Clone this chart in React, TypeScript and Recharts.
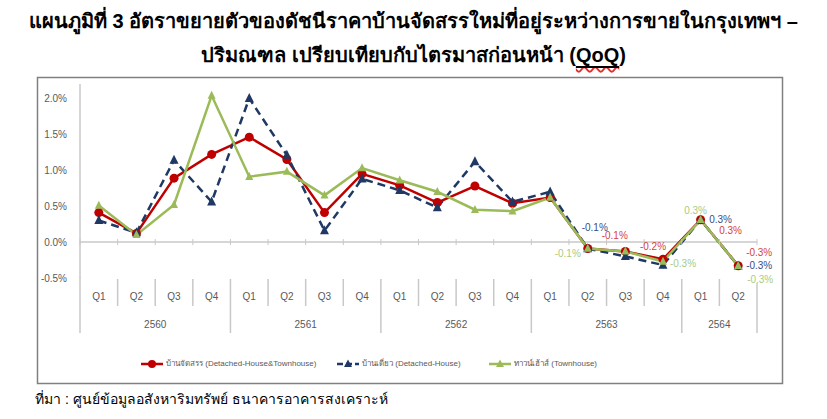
import { LineChart, Line, XAxis, YAxis, ReferenceLine, LabelList } from "recharts";

const quarters = ["Q1", "Q2", "Q3", "Q4", "Q1", "Q2", "Q3", "Q4", "Q1", "Q2", "Q3", "Q4", "Q1", "Q2", "Q3", "Q4", "Q1", "Q2"];
const years = ["2560", "2560", "2560", "2560", "2561", "2561", "2561", "2561", "2562", "2562", "2562", "2562", "2563", "2563", "2563", "2563", "2564", "2564"];

// % QoQ
const allHousing = [0.41, 0.12, 0.89, 1.22, 1.46, 1.15, 0.41, 0.95, 0.79, 0.55, 0.78, 0.54, 0.62, -0.09, -0.13, -0.24, 0.31, -0.33];
const detached = [0.3, 0.13, 1.14, 0.56, 2.0, 1.21, 0.16, 0.88, 0.72, 0.48, 1.12, 0.56, 0.7, -0.09, -0.2, -0.32, 0.31, -0.33];
const townhouse = [0.51, 0.1, 0.52, 2.04, 0.91, 0.98, 0.65, 1.03, 0.86, 0.7, 0.45, 0.43, 0.62, -0.09, -0.13, -0.27, 0.31, -0.33];

const yTicks = [-0.5, 0, 0.5, 1, 1.5, 2];

const data = quarters.map((q, i) => ({
  key: `${years[i]}-${q}`,
  allHousing: allHousing[i],
  detached: detached[i],
  townhouse: townhouse[i],
}));

const RED = "#C00000";
const BLUE = "#1F3864";
const GREEN = "#9BBB59";
const AXIS = "#C8C8C8";
const TEXT = "#595959";
const FONT = "'Liberation Sans', Arial, sans-serif";

// plot geometry
const CHART_W = 827;
const CHART_H = 419;
const PLOT_LEFT = 80;
const PLOT_RIGHT = 757;
const PLOT_TOP = 84;
const PLOT_BOTTOM = 278;
const Y_MIN = -0.5;
const Y_MAX = 2.2;
const BAND = (PLOT_RIGHT - PLOT_LEFT) / quarters.length;
const ZERO_UP = ((PLOT_BOTTOM - PLOT_TOP) * (0 - Y_MIN)) / (Y_MAX - Y_MIN);

// which points carry a data label, and where it sits relative to the point
const labelPos: Record<string, Record<number, { dx: number; dy: number }>> = {
  allHousing: { 13: { dx: 27, dy: -13 }, 15: { dx: -10, dy: -13 }, 16: { dx: 30, dy: 11 }, 17: { dx: 21, dy: -13 } },
  detached: { 13: { dx: 7, dy: -21 }, 16: { dx: 20, dy: 0 }, 17: { dx: 21, dy: 0 } },
  townhouse: { 13: { dx: -20, dy: 5 }, 15: { dx: 20, dy: 2 }, 16: { dx: -5, dy: -9 }, 17: { dx: 22, dy: 14 } },
};

const makeLabel = (series: string, color: string) => (props: any) => {
  const { x, y, value, index } = props;
  const pos = labelPos[series][index];
  if (!pos) return null;
  return (
    <text x={x + pos.dx} y={y + pos.dy} fill={color} fontSize={10} fontFamily={FONT} textAnchor="middle" dominantBaseline="central">
      {`${Number(value).toFixed(1)}%`}
    </text>
  );
};

const triangle = (color: string, size: number) => (props: any) => {
  const { cx, cy, index } = props;
  const h = size;
  const w = size;
  return (
    <polygon
      key={`tri-${index}`}
      points={`${cx},${cy - h * 0.6} ${cx - w / 2},${cy + h * 0.4} ${cx + w / 2},${cy + h * 0.4}`}
      fill={color}
    />
  );
};

function ValueTick(props: any) {
  const { y, payload } = props;
  return (
    <text x={PLOT_LEFT - 13} y={y} fill={TEXT} fontSize={10} fontFamily={FONT} textAnchor="end" dominantBaseline="central">
      {`${Number(payload.value).toFixed(1)}%`}
    </text>
  );
}

function CategoryTick(props: any) {
  const { x, y, payload } = props;
  const i = payload.index;
  const left = x - BAND / 2;
  const yearStart = i === 0 || years[i] !== years[i - 1];
  const isLast = i === quarters.length - 1;
  let yearLabel = null;
  if (yearStart) {
    let n = 0;
    while (years[i + n] === years[i]) n++;
    yearLabel = (
      <text x={left + (n * BAND) / 2} y={y + 46} fill={TEXT} fontSize={10} fontFamily={FONT} textAnchor="middle" dominantBaseline="central">
        {years[i]}
      </text>
    );
  }
  return (
    <g>
      <line x1={left} x2={left} y1={y - ZERO_UP - 3} y2={y - ZERO_UP + 3} stroke={AXIS} />
      {isLast && <line x1={left + BAND} x2={left + BAND} y1={y - ZERO_UP - 3} y2={y - ZERO_UP + 3} stroke={AXIS} />}
      <line x1={left} x2={left} y1={i === 0 ? y - 1 : y + 1} y2={y + (yearStart ? 55 : 28)} stroke={AXIS} strokeWidth={1.5} />
      {isLast && <line x1={left + BAND} x2={left + BAND} y1={y + 5} y2={y + 55} stroke={AXIS} strokeWidth={1.5} />}
      <text x={x} y={y + 18} fill={TEXT} fontSize={10} fontFamily={FONT} textAnchor="middle" dominantBaseline="central">
        {quarters[i]}
      </text>
      {yearLabel}
    </g>
  );
}

function LegendItem({ color, label, marker, dashed }: { color: string; label: string; marker: "circle" | "triangle"; dashed?: boolean }) {
  return (
    <div style={{ display: "flex", alignItems: "center" }}>
      <svg width={24} height={12}>
        <line x1={1} x2={23} y1={6} y2={6} stroke={color} strokeWidth={2.5} strokeDasharray={dashed ? "6 3" : undefined} />
        {marker === "circle" ? (
          <circle cx={12} cy={6} r={4} fill={color} />
        ) : (
          <polygon points="12,1.5 8,9 16,9" fill={color} />
        )}
      </svg>
      <span style={{ marginLeft: 2, fontSize: 8, color: TEXT, fontFamily: FONT, whiteSpace: "nowrap" }}>{label}</span>
    </div>
  );
}

export default function App() {
  return (
    <div style={{ position: "absolute", left: 0, top: 0, width: CHART_W, height: CHART_H, background: "#fff", fontFamily: FONT }}>
      <div style={{ position: "absolute", top: 4, left: 0, width: CHART_W, textAlign: "center", fontWeight: "bold", fontSize: 20, lineHeight: "34px", color: "#000" }}>
        <div>แผนภูมิที่ 3 อัตราขยายตัวของดัชนีราคาบ้านจัดสรรใหม่ที่อยู่ระหว่างการขายในกรุงเทพฯ –</div>
        <div>
          ปริมณฑล เปรียบเทียบกับไตรมาสก่อนหน้า (
          <span style={{ textDecoration: "underline wavy #E03030", textUnderlineOffset: 4 }}>
            <span style={{ textDecoration: "underline" }}>QoQ</span>
          </span>
          )
        </div>
      </div>

      {/* frame round the chart */}
      <svg width={CHART_W} height={CHART_H} style={{ position: "absolute", left: 0, top: 0 }}>
        <rect x={37.5} y={77.5} width={745} height={306} fill="none" stroke="#808080" strokeWidth={1.5} />
      </svg>

      <div style={{ position: "absolute", left: 0, top: 0 }}>
        <LineChart
          width={CHART_W}
          height={CHART_H}
          data={data}
          margin={{ top: PLOT_TOP, right: CHART_W - PLOT_RIGHT, bottom: CHART_H - PLOT_BOTTOM - 62, left: PLOT_LEFT - 40 }}
        >
          <XAxis
            dataKey="key"
            axisLine={false}
            tickLine={false}
            tickSize={0}
            tickMargin={0}
            interval={0}
            height={62}
            padding={{ left: BAND / 2, right: BAND / 2 }}
            tick={<CategoryTick />}
          />
          <YAxis
            domain={[Y_MIN, Y_MAX]}
            ticks={yTicks}
            width={40}
            tickLine={false}
            axisLine={{ stroke: AXIS, strokeWidth: 1.5 }}
            tick={<ValueTick />}
            allowDataOverflow
          />
          <ReferenceLine y={0} stroke={AXIS} strokeWidth={1.5} />
          <Line type="linear" dataKey="allHousing" stroke={RED} strokeWidth={2.5} dot={{ r: 4.5, fill: RED, stroke: RED, strokeWidth: 0 }} isAnimationActive={false}>
            <LabelList dataKey="allHousing" content={makeLabel("allHousing", "#D94040")} />
          </Line>
          <Line type="linear" dataKey="detached" stroke={BLUE} strokeWidth={2.5} strokeDasharray="8 5" dot={triangle(BLUE, 9)} isAnimationActive={false}>
            <LabelList dataKey="detached" content={makeLabel("detached", "#3A4D80")} />
          </Line>
          <Line type="linear" dataKey="townhouse" stroke={GREEN} strokeWidth={2.5} dot={triangle(GREEN, 8)} isAnimationActive={false}>
            <LabelList dataKey="townhouse" content={makeLabel("townhouse", "#A8CC80")} />
          </Line>
        </LineChart>
      </div>

      <div style={{ position: "absolute", top: 357, left: 0, width: CHART_W, height: 14 }}>
        <div style={{ position: "absolute", left: 140 }}>
          <LegendItem color={RED} label="บ้านจัดสรร (Detached-House&Townhouse)" marker="circle" />
        </div>
        <div style={{ position: "absolute", left: 336 }}>
          <LegendItem color={BLUE} label="บ้านเดี่ยว (Detached-House)" marker="triangle" dashed />
        </div>
        <div style={{ position: "absolute", left: 488 }}>
          <LegendItem color={GREEN} label="ทาวน์เฮ้าส์ (Townhouse)" marker="triangle" />
        </div>
      </div>

      <div style={{ position: "absolute", left: 35, top: 388, fontSize: 14, color: "#000", whiteSpace: "nowrap" }}>
        ที่มา : ศูนย์ข้อมูลอสังหาริมทรัพย์ ธนาคารอาคารสงเคราะห์
      </div>
    </div>
  );
}
